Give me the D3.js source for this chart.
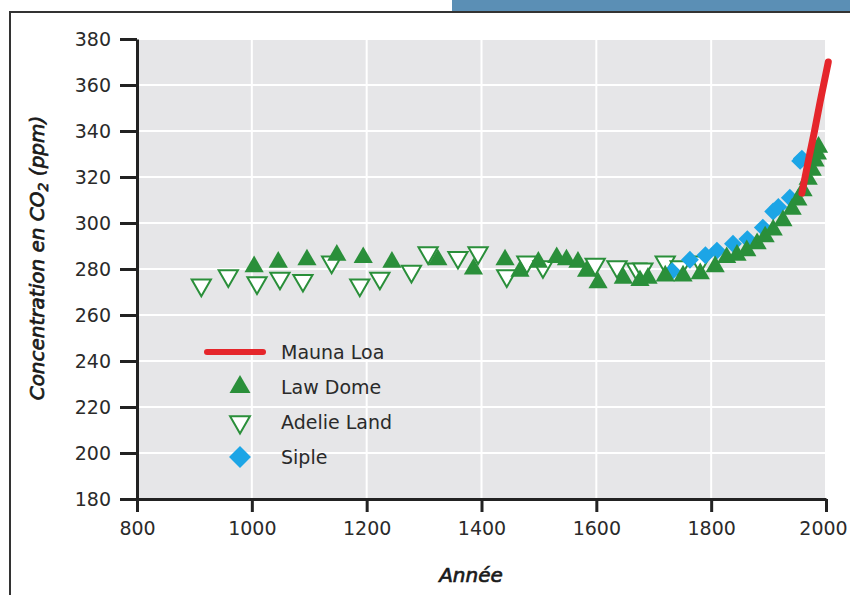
<!DOCTYPE html>
<html>
<head>
<meta charset="utf-8">
<script src="https://cdn.jsdelivr.net/npm/d3@7"></script>
<style>
  body { margin: 0; background: #fff; }
  svg { display: block; font-family: "DejaVu Sans", sans-serif; }
</style>
</head>
<body>
<div id="chart"></div>
<script>
// Values: [year, ppm]
const maunaLoa = [[1958, 313], [1970, 328], [1980, 340], [1990, 353], [2004, 370]];

const lawDome = [
  [1004, 281], [1046, 283], [1096, 284], [1148, 286], [1194, 285], [1244, 283],
  [1324, 284], [1386, 280], [1441, 284], [1467, 279], [1499, 283], [1531, 285],
  [1548, 284], [1568, 283], [1583, 279], [1603, 274], [1647, 276], [1676, 275],
  [1690, 276], [1720, 277], [1751, 277], [1781, 278], [1807, 281], [1827, 285],
  [1845, 286], [1862, 288], [1880, 291], [1894, 294], [1908, 297], [1925, 301],
  [1941, 306], [1951, 310], [1960, 314], [1969, 319], [1976, 323], [1981, 327],
  [1985, 330], [1987, 333]
];

const adelieLand = [
  [912, 273], [959, 277], [1009, 274], [1049, 276], [1089, 275], [1139, 283],
  [1188, 273], [1223, 276], [1278, 279], [1307, 287], [1359, 285], [1394, 287],
  [1444, 277], [1479, 283], [1507, 281], [1598, 282], [1636, 281], [1670, 280],
  [1681, 280], [1720, 283], [1746, 281], [1781, 283]
];

const siple = [
  [1732, 279], [1763, 284], [1790, 286], [1810, 288], [1838, 291], [1863, 293],
  [1890, 298], [1908, 305], [1917, 307], [1937, 311], [1955, 327], [1958, 328]
];

const xTicks = [800, 1000, 1200, 1400, 1600, 1800, 2000];
const yTicks = [180, 200, 220, 240, 260, 280, 300, 320, 340, 360, 380];
const legendNames = ["Mauna Loa", "Law Dome", "Adelie Land", "Siple"];

const width = 850, height = 595;
const green = "#2a8f3a", blue = "#1ca5e6", red = "#e5262b";

const x = d3.scaleLinear([800, 2000], [137, 826]);
const y = d3.scaleLinear([180, 380], [499, 39]);

const svg = d3.select("#chart").append("svg")
  .attr("width", width)
  .attr("height", height);

// page frame bits
svg.append("rect").attr("x", 452).attr("y", 0).attr("width", 398).attr("height", 11).attr("fill", "#5b8fb5");
svg.append("path").attr("d", "M10,595V12H850").attr("fill", "none").attr("stroke", "#333").attr("stroke-width", 2);

// plot background + grid
svg.append("rect")
  .attr("x", x(800)).attr("y", y(380))
  .attr("width", x(2000) - x(800)).attr("height", y(180) - y(380))
  .attr("fill", "#e6e6e8");

svg.append("g").attr("stroke", "#fff").attr("stroke-width", 2)
  .selectAll("line").data(yTicks).join("line")
  .attr("x1", x(800)).attr("x2", x(2000))
  .attr("y1", d => y(d)).attr("y2", d => y(d));

svg.append("g").attr("stroke", "#fff").attr("stroke-width", 2)
  .selectAll("line").data(xTicks).join("line")
  .attr("y1", y(180)).attr("y2", y(380))
  .attr("x1", d => x(d)).attr("x2", d => x(d));

// axes
const yAxis = svg.append("g")
  .attr("transform", `translate(${x(800)},0)`)
  .call(d3.axisLeft(y).tickValues(yTicks).tickSize(17).tickSizeOuter(0).tickPadding(9));

const xAxis = svg.append("g")
  .attr("transform", `translate(0,${y(180)})`)
  .call(d3.axisBottom(x).tickValues(xTicks).tickFormat(d3.format("d")).tickSize(13).tickSizeOuter(0).tickPadding(10));

[yAxis, xAxis].forEach(g => {
  g.select(".domain").attr("stroke", "#222").attr("stroke-width", 3);
  g.selectAll(".tick line").attr("stroke", "#222").attr("stroke-width", 3);
  g.selectAll(".tick text").attr("font-size", 19).attr("font-family", "DejaVu Sans").attr("fill", "#2a2a2a");
});
// keep the last year label inside the page
xAxis.selectAll(".tick text").filter(d => d === 2000).attr("x", -3);

// axis titles
const yTitle = svg.append("text")
  .attr("transform", "translate(44,258) rotate(-90)")
  .attr("text-anchor", "middle")
  .attr("font-size", 20)
  .attr("font-style", "italic")
  .attr("fill", "#1a1a1a").attr("stroke", "#1a1a1a").attr("stroke-width", 0.7);
yTitle.append("tspan").text("Concentration en CO");
yTitle.append("tspan").attr("font-size", 14).attr("dy", 4).text("2");
yTitle.append("tspan").attr("dy", -4).text(" (ppm)");

svg.append("text")
  .attr("x", 471).attr("y", 582)
  .attr("text-anchor", "middle")
  .attr("font-size", 20)
  .attr("font-style", "italic")
  .attr("fill", "#1a1a1a").attr("stroke", "#1a1a1a").attr("stroke-width", 0.7)
  .text("Année");

// markers
const upTri = d3.symbol(d3.symbolTriangle, 160);
const diamond = d3.symbol(d3.symbolSquare, 160);

svg.append("g").selectAll("path").data(adelieLand).join("path")
  .attr("d", upTri)
  .attr("transform", d => `translate(${x(d[0])},${y(d[1])}) rotate(180)`)
  .attr("fill", "#fff").attr("stroke", green).attr("stroke-width", 2);

svg.append("g").selectAll("path").data(siple).join("path")
  .attr("d", diamond)
  .attr("transform", d => `translate(${x(d[0])},${y(d[1])}) rotate(45)`)
  .attr("fill", blue);

svg.append("g").selectAll("path").data(lawDome).join("path")
  .attr("d", upTri)
  .attr("transform", d => `translate(${x(d[0])},${y(d[1])})`)
  .attr("fill", green);

svg.append("path")
  .datum(maunaLoa)
  .attr("d", d3.line().x(d => x(d[0])).y(d => y(d[1])))
  .attr("fill", "none").attr("stroke", red).attr("stroke-width", 7)
  .attr("stroke-linecap", "round").attr("stroke-linejoin", "round");

// legend
const legend = svg.append("g");
const rowY = i => 352 + i * 35;

legend.append("line")
  .attr("x1", 207).attr("x2", 263).attr("y1", rowY(0)).attr("y2", rowY(0))
  .attr("stroke", red).attr("stroke-width", 6).attr("stroke-linecap", "round");
legend.append("path").attr("d", d3.symbol(d3.symbolTriangle, 190))
  .attr("transform", `translate(240,${rowY(1)})`).attr("fill", green);
legend.append("path").attr("d", d3.symbol(d3.symbolTriangle, 170))
  .attr("transform", `translate(240,${rowY(2)}) rotate(180)`)
  .attr("fill", "#fff").attr("stroke", green).attr("stroke-width", 2);
legend.append("path").attr("d", d3.symbol(d3.symbolSquare, 240))
  .attr("transform", `translate(240,${rowY(3)}) rotate(45)`).attr("fill", blue);

legend.selectAll("text").data(legendNames).join("text")
  .attr("x", 281).attr("y", (d, i) => rowY(i))
  .attr("dy", "0.36em")
  .attr("font-size", 19)
  .attr("fill", "#2a2a2a")
  .text(d => d);
</script>
</body>
</html>
